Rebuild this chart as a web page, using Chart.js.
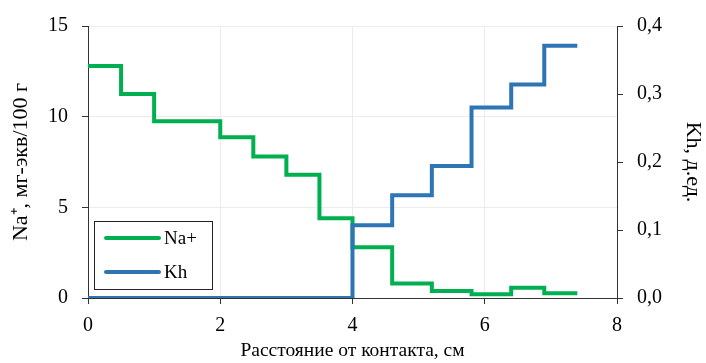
<!DOCTYPE html>
<html>
<head>
<meta charset="utf-8">
<script src="https://cdn.jsdelivr.net/npm/chart.js@4.4.0/dist/chart.umd.min.js"></script>
<style>
  html, body { margin: 0; padding: 0; background: #fff; }
</style>
</head>
<body>
<canvas id="chart" width="706" height="363"></canvas>
<script>
// distance from contact, cm (start of each step; last value is the end)
const naX = [0, 0.5, 1, 2, 2.5, 3, 3.5, 4, 4.6, 5.2, 5.8, 6.4, 6.9, 7.4];
const naValues = [12.8, 11.25, 9.75, 8.87, 7.8, 6.8, 4.4, 2.8, 0.8, 0.38, 0.2, 0.56, 0.26, 0.26];
const khX = [0, 4, 4.6, 5.2, 5.8, 6.4, 6.9, 7.4];
const khValues = [0, 0.107, 0.151, 0.194, 0.28, 0.314, 0.371, 0.371];
const khTickLabels = ['0,0', '0,1', '0,2', '0,3', '0,4'];

const serif = 'Liberation Serif';

const toPoints = (xs, ys) => xs.map((x, i) => ({ x: x, y: ys[i] }));

// legend drawn inside the plot, bottom-left, with a frame
const boxLegend = {
  id: 'boxLegend',
  afterDatasetsDraw(chart) {
    const ctx = chart.ctx;
    const a = chart.chartArea;
    const left = a.left + 6, top = a.bottom - 77, w = 118, h = 68;
    ctx.save();
    ctx.fillStyle = '#fff';
    ctx.fillRect(left, top, w, h);
    ctx.strokeStyle = '#222';
    ctx.lineWidth = 1;
    ctx.strokeRect(left + 0.5, top + 0.5, w, h);
    ctx.font = '19px "' + serif + '"';
    ctx.textBaseline = 'middle';
    chart.data.datasets.forEach((ds, i) => {
      const y = top + 17 + i * 34;
      ctx.strokeStyle = ds.borderColor;
      ctx.lineWidth = 4;
      ctx.lineCap = 'round';
      ctx.beginPath();
      ctx.moveTo(left + 12, y);
      ctx.lineTo(left + 65, y);
      ctx.stroke();
      ctx.fillStyle = '#000';
      ctx.fillText(ds.label, left + 70, y + 1);
    });
    ctx.restore();
  }
};

new Chart(document.getElementById('chart'), {
  type: 'line',
  data: {
    datasets: [
      {
        label: 'Na+',
        data: toPoints(naX, naValues),
        yAxisID: 'y',
        borderColor: '#00b050',
        borderWidth: 4,
        stepped: 'before',
        pointRadius: 0,
        fill: false,
        order: 1,
      },
      {
        label: 'Kh',
        data: toPoints(khX, khValues),
        yAxisID: 'y1',
        borderColor: '#2e75b6',
        borderWidth: 4,
        stepped: 'before',
        pointRadius: 0,
        fill: false,
        order: 0,
      },
    ],
  },
  options: {
    responsive: false,
    animation: false,
    layout: { padding: { top: 23, left: 0, right: 0, bottom: 0 } },
    plugins: {
      legend: { display: false },
      tooltip: { enabled: false },
    },
    scales: {
      x: {
        type: 'linear',
        min: 0,
        max: 8,
        ticks: { stepSize: 2, color: '#000', font: { family: serif, size: 20 }, padding: 10 },
        grid: { color: '#ececec', tickColor: '#333', tickLength: 6 },
        border: { color: '#333' },
        title: {
          display: true,
          text: 'Расстояние от контакта, см',
          color: '#000',
          font: { family: serif, size: 19.5 },
          padding: { top: 0, bottom: 0 },
        },
        afterFit(scale) { scale.height = 65; },
      },
      y: {
        position: 'left',
        min: 0,
        max: 15,
        ticks: { stepSize: 5, color: '#000', font: { family: serif, size: 20 }, padding: 14 },
        grid: { color: '#ececec', tickColor: '#333', tickLength: 6 },
        border: { color: '#333' },
        title: {
          display: true,
          text: 'Na⁺, мг-экв/100 г',
          color: '#000',
          font: { family: serif, size: 22 },
          padding: { top: 8, bottom: 0 },
        },
        afterFit(scale) { scale.width = 88; },
      },
      y1: {
        position: 'right',
        min: 0,
        max: 0.4,
        ticks: {
          stepSize: 0.1,
          color: '#000',
          font: { family: serif, size: 20 },
          padding: 14,
          callback: (v, i) => khTickLabels[i],
        },
        grid: { drawOnChartArea: false, tickColor: '#333', tickLength: 6 },
        border: { color: '#333' },
        title: {
          display: true,
          text: 'Kh, д.ед.',
          color: '#000',
          font: { family: serif, size: 22 },
          padding: { top: 0, bottom: 4 },
        },
        afterFit(scale) { scale.width = 89; },
      },
    },
  },
  plugins: [boxLegend],
});
</script>
</body>
</html>
